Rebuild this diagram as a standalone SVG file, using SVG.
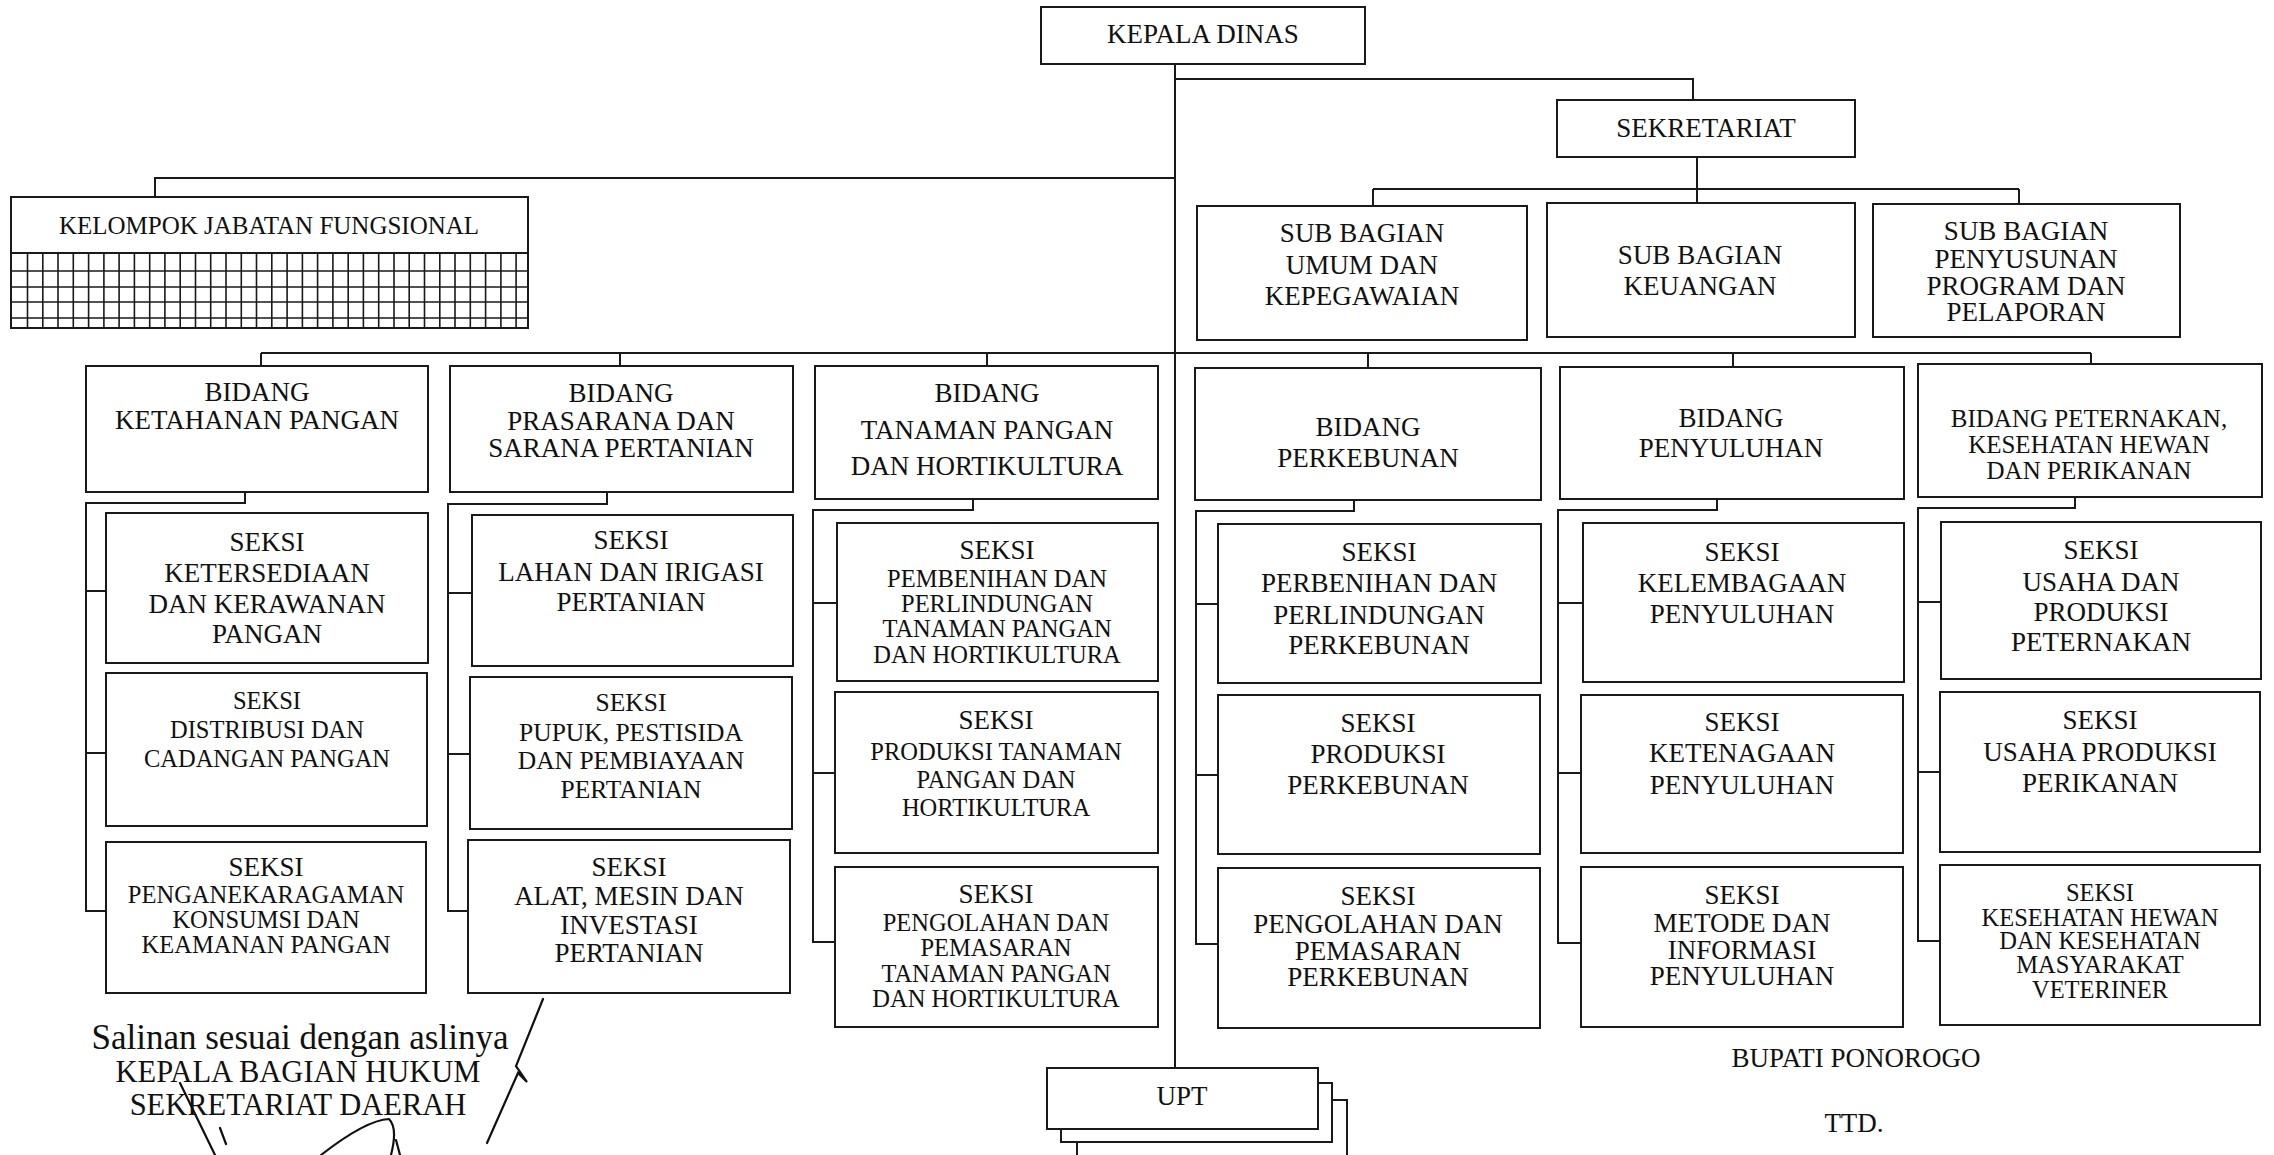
<svg xmlns="http://www.w3.org/2000/svg" width="2274" height="1155" viewBox="0 0 2274 1155">
<style>
.box{fill:#fff;stroke:#1a1a1a;stroke-width:2}
.ln{fill:none;stroke:#1a1a1a;stroke-width:2}
.thin{fill:none;stroke:#1a1a1a;stroke-width:1.6}
.sig{fill:none;stroke:#111;stroke-width:2.2;stroke-linecap:round}
text{font-family:"Liberation Serif","Times New Roman",serif;font-size:27px;fill:#111;text-anchor:middle;dominant-baseline:central}
.s{font-size:24.5px}
.m{font-size:25.5px}
.big{font-size:35px}
.mid{font-size:30.5px}
</style>
<rect width="2274" height="1155" fill="#fff"/>

<g id="connectors">
  <path class="ln" d="M1175 64 V1068"/>
  <path class="ln" d="M1175 79 H1693 V100"/>
  <path class="ln" d="M1697 157 V189 M1373 189 H2019 M1373 189 V206 M1697 189 V203 M2019 189 V204"/>
  <path class="ln" d="M1175 178 H155 V197"/>
  <path class="ln" d="M261 353 H2091 M261 353 V366 M620 353 V366 M987 353 V366 M1368 353 V368 M1733 353 V367 M2091 353 V364"/>
  <path class="ln" d="M245 492 V503 H86 V911 H106 M86 591 H106 M86 753 H106"/>
  <path class="ln" d="M607 492 V504 H448 V911 H470 M448 593 H472 M448 754 H470"/>
  <path class="ln" d="M973 499 V510 H813 V942 H836 M813 603 H837 M813 773 H835"/>
  <path class="ln" d="M1354 500 V511 H1196 V944 H1218 M1196 604 H1218 M1196 775 H1218"/>
  <path class="ln" d="M1717 499 V510 H1558 V943 H1582 M1558 603 H1583 M1558 773 H1581"/>
  <path class="ln" d="M2075 497 V508 H1918 V941 H1941 M1918 602 H1941 M1918 772 H1940"/>
</g>

<g id="kepala-dinas">
  <rect class="box" x="1041" y="7" width="324" height="57"/>
  <text x="1203" y="34">KEPALA DINAS</text>
</g>

<g id="sekretariat">
  <rect class="box" x="1557" y="100" width="298" height="57"/>
  <text x="1706" y="128">SEKRETARIAT</text>
</g>

<g id="sub-bagian-umum">
  <rect class="box" x="1197" y="206" width="330" height="134"/>
  <text x="1362"><tspan x="1362" y="233">SUB BAGIAN</tspan><tspan x="1362" y="265">UMUM DAN</tspan><tspan x="1362" y="296">KEPEGAWAIAN</tspan></text>
</g>

<g id="sub-bagian-keuangan">
  <rect class="box" x="1547" y="203" width="308" height="134"/>
  <text x="1700"><tspan x="1700" y="255">SUB BAGIAN</tspan><tspan x="1700" y="286">KEUANGAN</tspan></text>
</g>

<g id="sub-bagian-program">
  <rect class="box" x="1873" y="204" width="307" height="133"/>
  <text x="2026"><tspan x="2026" y="231">SUB BAGIAN</tspan><tspan x="2026" y="259">PENYUSUNAN</tspan><tspan x="2026" y="286">PROGRAM DAN</tspan><tspan x="2026" y="312">PELAPORAN</tspan></text>
</g>

<g id="kelompok-jabatan-fungsional">
  <rect class="box" x="11" y="197" width="517" height="131"/>
  <text x="269" y="225" style="font-size:25px">KELOMPOK JABATAN FUNGSIONAL</text>
  <path class="ln" d="M11 253 H528"/>
  <path class="thin" d="M11 271 H528 M11 287 H528 M11 302 H528 M11 318 H528"/>
  <path class="thin" d="M27.5 253V328M42.8 253V328M58 253V328M73.3 253V328M88.6 253V328M103.9 253V328M119.1 253V328M134.4 253V328M149.7 253V328M164.9 253V328M180.2 253V328M195.5 253V328M210.7 253V328M226 253V328M241.3 253V328M256.5 253V328M271.8 253V328M287.1 253V328M302.4 253V328M317.6 253V328M332.9 253V328M348.2 253V328M363.4 253V328M378.7 253V328M394 253V328M409.2 253V328M424.5 253V328M439.8 253V328M455 253V328M470.3 253V328M485.6 253V328M500.9 253V328M516.1 253V328"/>
</g>

<g id="bidang-ketahanan-pangan">
  <rect class="box" x="86" y="366" width="342" height="126"/>
  <text x="257"><tspan x="257" y="392">BIDANG</tspan><tspan x="257" y="420">KETAHANAN PANGAN</tspan></text>
</g>
<g id="bidang-prasarana">
  <rect class="box" x="450" y="366" width="343" height="126"/>
  <text x="621"><tspan x="621" y="393">BIDANG</tspan><tspan x="621" y="421">PRASARANA DAN</tspan><tspan x="621" y="448">SARANA PERTANIAN</tspan></text>
</g>
<g id="bidang-tanaman-pangan">
  <rect class="box" x="815" y="366" width="343" height="133"/>
  <text x="987"><tspan x="987" y="393">BIDANG</tspan><tspan x="987" y="430">TANAMAN PANGAN</tspan><tspan x="987" y="466">DAN HORTIKULTURA</tspan></text>
</g>
<g id="bidang-perkebunan">
  <rect class="box" x="1195" y="368" width="346" height="132"/>
  <text x="1368"><tspan x="1368" y="427">BIDANG</tspan><tspan x="1368" y="458">PERKEBUNAN</tspan></text>
</g>
<g id="bidang-penyuluhan">
  <rect class="box" x="1560" y="367" width="344" height="132"/>
  <text x="1731"><tspan x="1731" y="418">BIDANG</tspan><tspan x="1731" y="448">PENYULUHAN</tspan></text>
</g>
<g id="bidang-peternakan">
  <rect class="box" x="1918" y="364" width="344" height="133"/>
  <text x="2089" style="font-size:25px"><tspan x="2089" y="418">BIDANG PETERNAKAN,</tspan><tspan x="2089" y="444">KESEHATAN HEWAN</tspan><tspan x="2089" y="470">DAN PERIKANAN</tspan></text>
</g>

<g id="seksi-ketersediaan">
  <rect class="box" x="106" y="513" width="322" height="150"/>
  <text x="267"><tspan x="267" y="542">SEKSI</tspan><tspan x="267" y="573">KETERSEDIAAN</tspan><tspan x="267" y="604">DAN KERAWANAN</tspan><tspan x="267" y="634">PANGAN</tspan></text>
</g>
<g id="seksi-distribusi">
  <rect class="box" x="106" y="673" width="321" height="153"/>
  <text x="267" class="s"><tspan x="267" y="700">SEKSI</tspan><tspan x="267" y="729">DISTRIBUSI DAN</tspan><tspan x="267" y="758">CADANGAN PANGAN</tspan></text>
</g>
<g id="seksi-penganekaragaman">
  <rect class="box" x="106" y="842" width="320" height="151"/>
  <text x="266" class="s"><tspan x="266" y="867" style="font-size:27px">SEKSI</tspan><tspan x="266" y="894">PENGANEKARAGAMAN</tspan><tspan x="266" y="919">KONSUMSI DAN</tspan><tspan x="266" y="944">KEAMANAN PANGAN</tspan></text>
</g>

<g id="seksi-lahan-irigasi">
  <rect class="box" x="472" y="515" width="321" height="151"/>
  <text x="631"><tspan x="631" y="540">SEKSI</tspan><tspan x="631" y="572">LAHAN DAN IRIGASI</tspan><tspan x="631" y="602">PERTANIAN</tspan></text>
</g>
<g id="seksi-pupuk">
  <rect class="box" x="470" y="677" width="322" height="152"/>
  <text x="631" class="m"><tspan x="631" y="702">SEKSI</tspan><tspan x="631" y="732">PUPUK, PESTISIDA</tspan><tspan x="631" y="760">DAN PEMBIAYAAN</tspan><tspan x="631" y="789">PERTANIAN</tspan></text>
</g>
<g id="seksi-alat-mesin">
  <rect class="box" x="468" y="840" width="322" height="153"/>
  <text x="629"><tspan x="629" y="867">SEKSI</tspan><tspan x="629" y="896">ALAT, MESIN DAN</tspan><tspan x="629" y="925">INVESTASI</tspan><tspan x="629" y="953">PERTANIAN</tspan></text>
</g>

<g id="seksi-pembenihan">
  <rect class="box" x="837" y="523" width="321" height="158"/>
  <text x="997" class="s"><tspan x="997" y="550" style="font-size:27px">SEKSI</tspan><tspan x="997" y="578">PEMBENIHAN DAN</tspan><tspan x="997" y="603">PERLINDUNGAN</tspan><tspan x="997" y="628">TANAMAN PANGAN</tspan><tspan x="997" y="654">DAN HORTIKULTURA</tspan></text>
</g>
<g id="seksi-produksi-tanaman">
  <rect class="box" x="835" y="692" width="323" height="161"/>
  <text x="996" class="s"><tspan x="996" y="720" style="font-size:27px">SEKSI</tspan><tspan x="996" y="751">PRODUKSI TANAMAN</tspan><tspan x="996" y="779">PANGAN DAN</tspan><tspan x="996" y="807">HORTIKULTURA</tspan></text>
</g>
<g id="seksi-pengolahan-tanaman">
  <rect class="box" x="835" y="867" width="323" height="160"/>
  <text x="996" class="s"><tspan x="996" y="894" style="font-size:27px">SEKSI</tspan><tspan x="996" y="922">PENGOLAHAN DAN</tspan><tspan x="996" y="947">PEMASARAN</tspan><tspan x="996" y="973">TANAMAN PANGAN</tspan><tspan x="996" y="998">DAN HORTIKULTURA</tspan></text>
</g>

<g id="seksi-perbenihan-perkebunan">
  <rect class="box" x="1218" y="524" width="323" height="159"/>
  <text x="1379"><tspan x="1379" y="552">SEKSI</tspan><tspan x="1379" y="583">PERBENIHAN DAN</tspan><tspan x="1379" y="615">PERLINDUNGAN</tspan><tspan x="1379" y="645">PERKEBUNAN</tspan></text>
</g>
<g id="seksi-produksi-perkebunan">
  <rect class="box" x="1218" y="695" width="322" height="159"/>
  <text x="1378"><tspan x="1378" y="723">SEKSI</tspan><tspan x="1378" y="754">PRODUKSI</tspan><tspan x="1378" y="785">PERKEBUNAN</tspan></text>
</g>
<g id="seksi-pengolahan-perkebunan">
  <rect class="box" x="1218" y="868" width="322" height="160"/>
  <text x="1378"><tspan x="1378" y="896">SEKSI</tspan><tspan x="1378" y="924">PENGOLAHAN DAN</tspan><tspan x="1378" y="951">PEMASARAN</tspan><tspan x="1378" y="977">PERKEBUNAN</tspan></text>
</g>

<g id="seksi-kelembagaan">
  <rect class="box" x="1583" y="523" width="321" height="159"/>
  <text x="1742"><tspan x="1742" y="552">SEKSI</tspan><tspan x="1742" y="583">KELEMBAGAAN</tspan><tspan x="1742" y="614">PENYULUHAN</tspan></text>
</g>
<g id="seksi-ketenagaan">
  <rect class="box" x="1581" y="695" width="322" height="158"/>
  <text x="1742"><tspan x="1742" y="722">SEKSI</tspan><tspan x="1742" y="753">KETENAGAAN</tspan><tspan x="1742" y="785">PENYULUHAN</tspan></text>
</g>
<g id="seksi-metode">
  <rect class="box" x="1581" y="867" width="322" height="160"/>
  <text x="1742"><tspan x="1742" y="895">SEKSI</tspan><tspan x="1742" y="923">METODE DAN</tspan><tspan x="1742" y="950">INFORMASI</tspan><tspan x="1742" y="976">PENYULUHAN</tspan></text>
</g>

<g id="seksi-usaha-peternakan">
  <rect class="box" x="1941" y="522" width="320" height="157"/>
  <text x="2101"><tspan x="2101" y="550">SEKSI</tspan><tspan x="2101" y="582">USAHA DAN</tspan><tspan x="2101" y="612">PRODUKSI</tspan><tspan x="2101" y="642">PETERNAKAN</tspan></text>
</g>
<g id="seksi-usaha-perikanan">
  <rect class="box" x="1940" y="692" width="320" height="160"/>
  <text x="2100"><tspan x="2100" y="720">SEKSI</tspan><tspan x="2100" y="752">USAHA PRODUKSI</tspan><tspan x="2100" y="783">PERIKANAN</tspan></text>
</g>
<g id="seksi-kesehatan-hewan">
  <rect class="box" x="1940" y="865" width="320" height="160"/>
  <text x="2100" class="s"><tspan x="2100" y="892">SEKSI</tspan><tspan x="2100" y="917">KESEHATAN HEWAN</tspan><tspan x="2100" y="940">DAN KESEHATAN</tspan><tspan x="2100" y="964">MASYARAKAT</tspan><tspan x="2100" y="989">VETERINER</tspan></text>
</g>

<g id="upt">
  <rect class="box" x="1077" y="1100" width="270" height="70"/>
  <rect class="box" x="1061" y="1083" width="271" height="59"/>
  <rect class="box" x="1047" y="1068" width="271" height="61"/>
  <text x="1182" y="1096">UPT</text>
</g>

<g id="pengesahan">
  <text class="big" x="300" y="1037">Salinan sesuai dengan aslinya</text>
  <text class="mid" x="298" y="1072">KEPALA BAGIAN HUKUM</text>
  <text class="mid" x="298" y="1105">SEKRETARIAT DAERAH</text>
  <path class="sig" d="M543 999 L516 1066 L527 1082 L518 1073 L487 1143"/>
  <path class="sig" d="M180 1083 L215 1155 M220 1128 L226 1144"/>
  <path class="sig" d="M321 1155 Q366 1120 389 1119 Q398 1128 391 1155 M396 1140 L400 1155"/>
</g>

<g id="bupati">
  <text x="1856" y="1058">BUPATI PONOROGO</text>
  <text x="1854" y="1123">TTD.</text>
</g>
</svg>
